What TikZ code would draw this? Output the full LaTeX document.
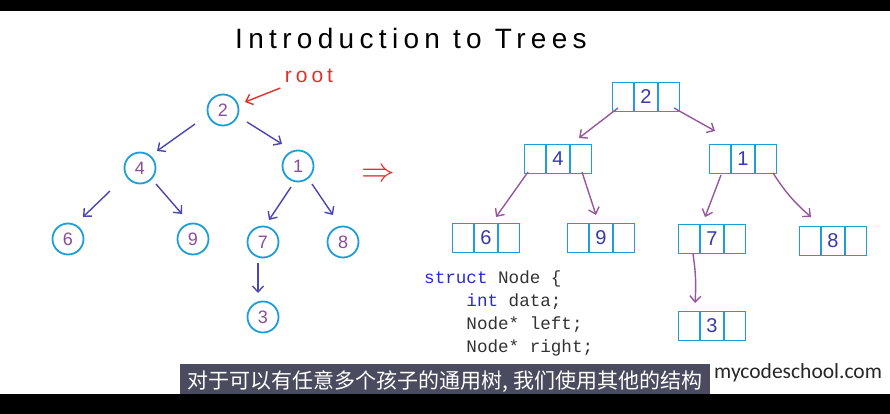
\documentclass[tikz,border=0pt]{standalone}
\usepackage{fontspec}
\usepackage{xcolor}
\usetikzlibrary{arrows.meta,calc}
\setmainfont{Liberation Sans}
\newfontfamily\titlefont[LetterSpace=19]{Liberation Sans}
\newfontfamily\codefont[WordSpace={1,0,0}]{Liberation Mono}
\newfontfamily\cjkfont{Noto Sans CJK SC}
\newfontfamily\sitefont{Carlito}
\definecolor{ringblue}{HTML}{1E9ED8}
\definecolor{arrowind}{HTML}{4A48B0}
\definecolor{digitpur}{HTML}{8A4C9A}
\definecolor{linkmauve}{HTML}{96589C}
\definecolor{digitblue}{HTML}{3838A8}
\definecolor{rootred}{HTML}{E0302A}
\definecolor{kwblue}{HTML}{2A2AD0}
\definecolor{codegray}{HTML}{333333}
\definecolor{capbg}{HTML}{4A4B5E}

\begin{document}
\begin{tikzpicture}[x=1pt,y=-1pt,
  circ/.style={circle,draw=ringblue,line width=1.8pt,minimum size=31pt,inner sep=0pt,
    text=digitpur,font=\fontsize{18}{18}\selectfont},
  cell/.style={draw=ringblue,line width=1.8pt,minimum width=67pt,minimum height=29pt,inner sep=0pt,
    text=digitblue,font=\fontsize{20}{20}\selectfont,
    path picture={\draw[ringblue,line width=1.8pt]
      ($(path picture bounding box.north)+(-12,0)$) -- ($(path picture bounding box.south)+(-12,0)$)
      ($(path picture bounding box.north)+(12,0)$) -- ($(path picture bounding box.south)+(12,0)$);}},
  edgeL/.style={arrowind,line width=1.4pt,-{Straight Barb[length=6pt,width=11pt]}},
  edgeR/.style={linkmauve,line width=1.4pt,-{Straight Barb[length=6pt,width=11pt]}}]
  \fill[white] (0,0) rectangle (890,414);

  \node[font=\titlefont\fontsize{28}{28}\selectfont] (title) at (411,38) {Introduction to Trees};

  % tree drawn with circles
  \foreach \n/\x/\y/\v in {c2/223/110/2,c4/140/168/4,c1/298/166/1,c6/68/239/6,
                           c9/193/239/9,c7/263/242/7,c8/343/242/8,c3/263/317/3}{
    \node[circ] (\n) at (\x,\y) {\v};
  }
  \foreach \a/\ax/\ay/\b/\bx/\by in {c2/-28/14/c4/17/-17,c2/24/12/c1/-16/-22,c4/-30/23/c6/15/-22,
                                     c4/16/16/c9/-11/-25,c1/-7/21/c7/6/-22,c1/14/18/c8/-10/-27,
                                     c7/-5/21/c3/-5/-24}{
    \draw[edgeL] ($(\a)+(\ax,\ay)$) -- ($(\b)+(\bx,\by)$);
  }
  \node[text=rootred,font=\titlefont\fontsize{21}{21}\selectfont] (root) at (309,76) {root};
  \draw[rootred,line width=1.4pt,-{Straight Barb[length=6pt,width=11pt]}]
    ($(root.west)+(-1,12)$) -- ($(c2)+(22,-8)$);

  \node[text=rootred,scale=1.35,font=\fontsize{24}{24}\selectfont] (imply) at (378,175) {$\Rightarrow$};

  % same tree with data and two links
  \foreach \n/\x/\y/\v in {b2/646/97/2,b4/558/159/4,b1/743/159/1,b6/486/238/6,
                           b9/601/238/9,b7/712/239/7,b8/833/241/8,b3/712/326/3}{
    \node[cell] (\n) at (\x,\y) {\v};
  }
  \foreach \a/\ax/\ay/\b/\bx/\by/\bd in {b2/-28/11/b4/21/-21/0,b2/28/11/b1/-28/-28/0,b4/-30/13/b6/10/-21/0,
                                         b4/24/13/b9/-5/-23/0,b1/-22/16/b7/-7/-22/0,b1/30/14/b8/-22/-24/-8,
                                         b7/-19/15/b3/-17/-23/6}{
    \draw[edgeR] ($(\a)+(\ax,\ay)$) to[bend left=\bd] ($(\b)+(\bx,\by)$);
  }

  \node[anchor=north west,align=left,inner sep=0pt,text=codegray,
        font=\codefont\fontsize{17.6}{23}\selectfont] (code) at (424,271)
    {\textcolor{kwblue}{struct} Node \{\\
     \phantom{xxxx}\textcolor{kwblue}{int} data;\\
     \phantom{xxxx}Node* left;\\
     \phantom{xxxx}Node* right;};

  \node[anchor=north west,fill=capbg,text=white,inner sep=0pt,minimum width=530pt,minimum height=34pt,
        font=\cjkfont\fontsize{21}{21}\selectfont] (caption) at (180,364)
    {对于可以有任意多个孩子的通用树, 我们使用其他的结构};
  \node[anchor=west,inner sep=0pt,text=black!85,font=\sitefont\fontsize{21.5}{21.5}\selectfont] (site) at (714,373)
    {mycodeschool.com};

  \fill[black] (0,0) rectangle (890,11);
  \fill[black] (0,394) rectangle (890,414);
\end{tikzpicture}
\end{document}
